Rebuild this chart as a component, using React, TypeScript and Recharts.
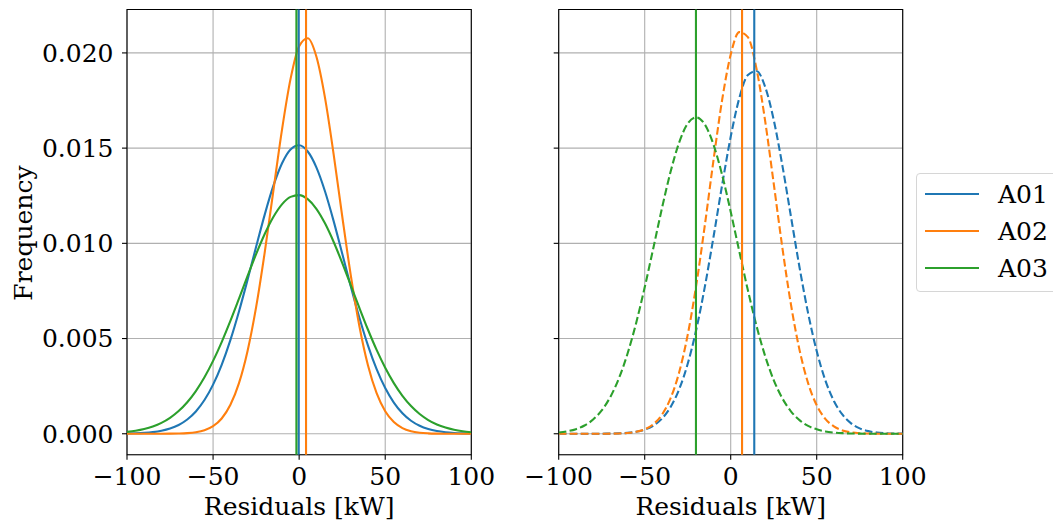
import React from 'react';
import { LineChart, Line, XAxis, YAxis, CartesianGrid, ReferenceLine, ReferenceArea } from 'recharts';

const residuals = [-100, -95, -90, -85, -80, -75, -70, -65, -60, -55, -50, -45, -40, -35, -30, -25, -20, -15, -10, -5, 0, 5, 10, 15, 20, 25, 30, 35, 40, 45, 50, 55, 60, 65, 70, 75, 80, 85, 90, 95, 100];

const leftA01 = [0.0000118, 0.0000238, 0.0000463, 0.0000869, 0.000157, 0.000274, 0.000461, 0.000749, 0.001172, 0.00177, 0.002578, 0.003621, 0.004904, 0.006408, 0.008076, 0.009817, 0.011509, 0.013014, 0.014193, 0.01493, 0.01515, 0.014822, 0.01399, 0.012735, 0.011181, 0.009469, 0.007734, 0.006092, 0.004628, 0.003392, 0.002398, 0.001635, 0.001074, 0.000682, 0.000417, 0.000246, 0.00014, 0.0000768, 0.0000406, 0.0000208, 0.0000102];
const leftA02 = [0, 0, 0.0000001, 0.0000005, 0.0000015, 0.0000044, 0.0000124, 0.0000326, 0.0000804, 0.000185, 0.000398, 0.000801, 0.001506, 0.002644, 0.004337, 0.006648, 0.009524, 0.012748, 0.015945, 0.018635, 0.020353, 0.020772, 0.019809, 0.017653, 0.014699, 0.011436, 0.008316, 0.005649, 0.003586, 0.002128, 0.001179, 0.000611, 0.000296, 0.000134, 0.0000565, 0.0000223, 0.0000082, 0.0000028, 0.0000009, 0.0000003, 0.0000001];
const leftA03 = [0.0000986, 0.000159, 0.00025, 0.000383, 0.000573, 0.000836, 0.001191, 0.001655, 0.002243, 0.002966, 0.003826, 0.004815, 0.005911, 0.00708, 0.008274, 0.009433, 0.01049, 0.011381, 0.012048, 0.012441, 0.012534, 0.012319, 0.011812, 0.011049, 0.010083, 0.008977, 0.007797, 0.006607, 0.005461, 0.004404, 0.003466, 0.00266, 0.001993, 0.001455, 0.001037, 0.000721, 0.000489, 0.000324, 0.000209, 0.000132, 0.0000809];

const rightA01 = [0, 0, 0.0000001, 0.0000004, 0.0000011, 0.0000031, 0.0000082, 0.0000201, 0.0000469, 0.000103, 0.000215, 0.000424, 0.000791, 0.001395, 0.002328, 0.003673, 0.00548, 0.007737, 0.010333, 0.013053, 0.015595, 0.017625, 0.018842, 0.019052, 0.018223, 0.016487, 0.014109, 0.011422, 0.008746, 0.006334, 0.00434, 0.002812, 0.001724, 0.000999, 0.000548, 0.000284, 0.000139, 0.0000647, 0.0000284, 0.0000118, 0.0000046];
const rightA02 = [0, 0, 0, 0.0000002, 0.0000006, 0.0000018, 0.0000055, 0.0000156, 0.0000412, 0.000102, 0.000233, 0.000499, 0.000997, 0.001853, 0.003214, 0.005193, 0.00782, 0.010979, 0.014366, 0.017518, 0.019911, 0.021094, 0.020828, 0.01917, 0.016443, 0.013147, 0.009795, 0.006804, 0.004405, 0.002659, 0.001494, 0.000784, 0.000383, 0.000174, 0.000074, 0.0000292, 0.0000108, 0.0000037, 0.0000012, 0.0000004, 0.0000001];
const rightA03 = [0.000066, 0.000129, 0.000242, 0.000434, 0.000746, 0.001226, 0.001931, 0.002912, 0.004202, 0.005809, 0.007688, 0.009744, 0.011827, 0.013743, 0.01529, 0.016291, 0.01662, 0.016235, 0.015186, 0.0136, 0.011662, 0.009578, 0.007531, 0.005669, 0.004087, 0.00282, 0.001865, 0.00118, 0.000715, 0.000415, 0.000231, 0.000123, 0.0000625, 0.0000305, 0.0000142, 0.0000064, 0.0000027, 0.0000011, 0.0000004, 0.0000002, 0.0000001];

const seriesNames = ['A01', 'A02', 'A03'];
const seriesColors = ['#1f77b4', '#ff7f0e', '#2ca02c'];
const leftMeans = [-0.3, 4.0, -1.6];
const rightMeans = [13.7, 6.6, -20.2];

const xTicks = [-100, -50, 0, 50, 100];
const yTicks = [0, 0.005, 0.01, 0.015, 0.02];
const xDomain = [-100, 100];
const yDomain = [-0.0011, 0.02228];

const FONT = 'DejaVu Serif';
const FS = 25;

const buildRows = (a: number[], b: number[], c: number[]) =>
  residuals.map((x, i) => ({ x, a01: a[i], a02: b[i], a03: c[i] }));

const leftRows = buildRows(leftA01, leftA02, leftA03);
const rightRows = buildRows(rightA01, rightA02, rightA03);
const keys = ['a01', 'a02', 'a03'];

const fmtX = (v: number) => (v < 0 ? '\u2212' + Math.abs(v) : String(v));
const fmtY = (v: number) => v.toFixed(3);

const tickStyle = { fontFamily: FONT, fontSize: FS, fill: '#000' };

const XLabel = (props: any) => {
  const vb = props.viewBox || {};
  return (
    <text x={vb.x + vb.width / 2} y={vb.y + 60} textAnchor="middle" fontFamily={FONT} fontSize={FS} fill="#000">
      Residuals [kW]
    </text>
  );
};

const YLabel = (props: any) => {
  const vb = props.viewBox || {};
  const cx = vb.x + 31.7;
  const cy = vb.y + vb.height / 2 + 1;
  return (
    <text x={cx} y={cy} transform={`rotate(-90, ${cx}, ${cy})`} textAnchor="middle" fontFamily={FONT} fontSize={FS} fill="#000">
      Frequency
    </text>
  );
};

function Panel({ rows, means, dashed, showYLabels, width, yAxisWidth, right }: any) {
  return (
    <LineChart width={width} height={522} data={rows} margin={{ top: 9.5, right, bottom: 7.3, left: 0 }}>
      <CartesianGrid stroke="#b0b0b0" strokeWidth={1.1} />
      <XAxis
        type="number"
        dataKey="x"
        domain={xDomain}
        ticks={xTicks}
        allowDataOverflow
        height={60}
        tickFormatter={fmtX}
        tick={tickStyle}
        tickSize={5}
        tickMargin={7.5}
        axisLine={false}
        tickLine={{ stroke: '#000', strokeWidth: 1.1 }}
        label={<XLabel />}
      />
      <YAxis
        type="number"
        domain={yDomain}
        ticks={yTicks}
        allowDataOverflow
        width={yAxisWidth}
        tickFormatter={showYLabels ? fmtY : () => ''}
        tick={tickStyle}
        tickSize={5}
        tickMargin={8.5}
        axisLine={false}
        tickLine={{ stroke: '#000', strokeWidth: 1.1 }}
        label={showYLabels ? <YLabel /> : undefined}
      />
      {keys.map((k, i) => (
        <Line
          key={k}
          type="monotone"
          dataKey={k}
          name={seriesNames[i]}
          stroke={seriesColors[i]}
          strokeWidth={2.1}
          strokeDasharray={dashed ? '7.7 3.3' : undefined}
          dot={false}
          activeDot={false}
          isAnimationActive={false}
        />
      ))}
      {means.map((m: number, i: number) => (
        <ReferenceLine key={'m' + i} x={m} stroke={seriesColors[i]} strokeWidth={2.1} />
      ))}
      <ReferenceArea
        x1={xDomain[0]}
        x2={xDomain[1]}
        y1={yDomain[0]}
        y2={yDomain[1]}
        fill="none"
        fillOpacity={0}
        stroke="#000"
        strokeWidth={1.1}
        ifOverflow="visible"
      />
    </LineChart>
  );
}

export default function App() {
  return (
    <div
      style={{
        position: 'absolute',
        left: 0,
        top: 0,
        width: 1053,
        height: 522,
        overflow: 'hidden',
        background: '#fff',
        fontFamily: FONT,
      }}
    >
      <div style={{ position: 'absolute', left: 0, top: 0 }}>
        <Panel rows={leftRows} means={leftMeans} dashed={false} showYLabels width={520} yAxisWidth={127} right={48.7} />
      </div>
      <div style={{ position: 'absolute', left: 520, top: 0 }}>
        <Panel rows={rightRows} means={rightMeans} dashed showYLabels={false} width={450} yAxisWidth={38.7} right={67.3} />
      </div>
      <div
        style={{
          position: 'absolute',
          left: 916,
          top: 172.7,
          width: 150,
          height: 119,
          border: '1px solid #d6d6d6',
          borderRadius: 4,
          background: '#fff',
          boxSizing: 'border-box',
        }}
      >
        {seriesNames.map((n, i) => (
          <div key={n} style={{ position: 'absolute', left: 0, top: 2 + i * 37, height: 37, width: 150 }}>
            <div style={{ position: 'absolute', left: 8, top: 17.5, width: 54, height: 2.1, background: seriesColors[i] }} />
            <div
              style={{
                position: 'absolute',
                left: 81,
                top: 0,
                height: 37,
                lineHeight: '37px',
                fontFamily: FONT,
                fontSize: FS,
                color: '#000',
              }}
            >
              {n}
            </div>
          </div>
        ))}
      </div>
    </div>
  );
}
